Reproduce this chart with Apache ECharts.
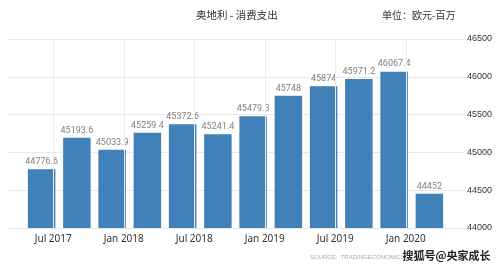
<!DOCTYPE html>
<html><head><meta charset="utf-8">
<script src="https://cdn.jsdelivr.net/npm/echarts@6/dist/echarts.min.js"></script>
<style>html,body{margin:0;padding:0;background:#fff}#c{width:500px;height:268px}</style>
</head><body><div id="c"></div>
<script>
var categories = ['2017Q2','2017Q3','2017Q4','2018Q1','2018Q2','2018Q3','2018Q4','2019Q1','2019Q2','2019Q3','2019Q4','2020Q1'];
var values = [44776.6, 45193.6, 45033.9, 45259.4, 45372.6, 45241.4, 45479.3, 45748, 45874, 45971.2, 46067.4, 44452];
var valueLabels = ['44776.6','45193.6','45033.9','45259.4','45372.6','45241.4','45479.3','45748','45874','45971.2','46067.4','44452'];
var tickLabels = ['Jul 2017','Jan 2018','Jul 2018','Jan 2019','Jul 2019','Jan 2020'];
var titleText = '奥地利 - 消费支出';
var unitText = '单位：欧元-百万';
var sourceText = 'SOURCE:  TRADINGECONOMICS.COM  |';
var watermark = '搜狐号@央家成长';

// tick label positions (in category index units): after every second quarter
var tickPos = tickLabels.map(function(_, k){ return 0.33 + 2*k; });

var chart = echarts.init(document.getElementById('c'));
chart.setOption({
  animation: false,
  textStyle: {fontFamily: '"Noto Sans CJK SC", "Noto Sans", sans-serif'},
  title: [
    {text: titleText, left: 191, top: 5, textStyle: {fontSize: 10.5, fontWeight: 'normal', color: '#333'}},
    {text: unitText, left: 377, top: 5, textStyle: {fontSize: 10, fontWeight: 'normal', color: '#333'}}
  ],
  grid: [
    {left: 24, right: 53, top: 39, bottom: 40},
    {left: 8, right: 35, top: 39, bottom: 40}
  ],
  xAxis: [
    {type: 'category', gridIndex: 0, data: categories, show: false},
    {type: 'value', gridIndex: 0, min: -0.5, max: 11.5, position: 'bottom',
      axisLine: {show: false}, axisTick: {show: false, customValues: tickPos},
      splitLine: {show: false},
      axisLabel: {customValues: tickPos, color: '#333', fontSize: 10, margin: 6,
        fontFamily: '"Noto Sans", sans-serif',
        formatter: function(v){ var i = tickPos.findIndex(function(p){return Math.abs(p-v)<1e-6;}); return i>=0 ? tickLabels[i] : ''; }}},
    {type: 'value', gridIndex: 1, min: 0, max: 1, show: false}
  ],
  yAxis: [
    {type: 'value', gridIndex: 0, min: 44000, max: 46500, interval: 500, show: false},
    {type: 'value', gridIndex: 1, min: 44000, max: 46500, interval: 500, position: 'right',
      axisLine: {show: false}, axisTick: {show: false},
      splitLine: {show: true, lineStyle: {color: '#e8e8e8', width: 1}},
      axisLabel: {color: '#333', fontSize: 9, margin: 2, formatter: function(v){ return String(v); },
        fontFamily: '"Liberation Sans", sans-serif'}}
  ],
  series: [
    {type: 'bar', xAxisIndex: 0, yAxisIndex: 0, data: values, barWidth: '78%',
      itemStyle: {color: '#4181b9'},
      label: {show: true, position: 'top', distance: 3, color: '#808080', fontSize: 9,
        fontFamily: 'Roboto, sans-serif',
        formatter: function(p){ return valueLabels[p.dataIndex]; }}},
    {type: 'line', xAxisIndex: 1, yAxisIndex: 0, data: [], silent: true,
      markLine: {symbol: 'none', silent: true, label: {show: false},
        lineStyle: {color: '#ececec', type: 'solid', width: 1},
        data: tickPos.map(function(p){ return {xAxis: p}; })}}
  ],
  graphic: [
    {type: 'text', left: 310, top: 254, style: {text: sourceText, fontSize: 6, fill: '#aaa', fontFamily: '"Liberation Sans", sans-serif'}},
    {type: 'text', left: 402, top: 250, style: {text: watermark, fontSize: 11, fill: '#222', fontWeight: 'bold', fontFamily: '"Noto Sans CJK SC", sans-serif', stroke: '#fff', lineWidth: 1}}
  ]
});
</script></body></html>
